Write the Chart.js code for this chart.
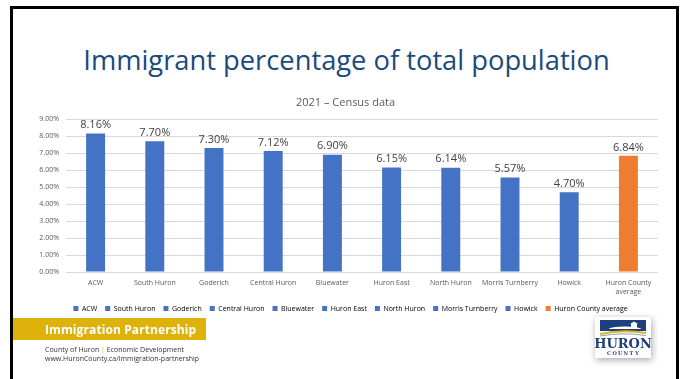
<!DOCTYPE html>
<html>
<head>
<meta charset="utf-8">
<script src="https://cdn.jsdelivr.net/npm/chart.js@4.4.1/dist/chart.umd.min.js"></script>
<style>
  html, body { margin: 0; padding: 0; background: #fff; }
  body { width: 685px; height: 379px; position: relative; overflow: hidden; font-family: "Open Sans", "Noto Sans", sans-serif; }
  .frame { position: absolute; left: 10px; top: 6px; width: 663px; height: 400px;
           border-left: 3px solid #000; border-top: 3px solid #000; border-right: 3px solid #000; }
  .headline { position: absolute; left: 4px; width: 685px; top: 41px; text-align: center;
              font-family: "Open Sans", sans-serif; font-weight: 400; font-size: 27.3px;
              color: #1b4a7d; letter-spacing: 0px; white-space: nowrap; }
  #chart { position: absolute; left: 0; top: 0; }
  .band { position: absolute; left: 13px; top: 318px; width: 193px; height: 22px; background: #ddb30b; }
  .band span { position: absolute; left: 32px; top: 3px; color: #fff; font-weight: 700; font-size: 12px;
               letter-spacing: 0.1px; font-family: "Open Sans", sans-serif; white-space: nowrap; }
  .contact { position: absolute; left: 45px; top: 345px; font-size: 7px; line-height: 9px; color: #333;
             font-family: "Open Sans", sans-serif; white-space: nowrap; }
  .contact .bar { color: #ddb30b; }
  #logo { position: absolute; left: 588px; top: 310px; }
</style>
</head>
<body>
<div class="frame"></div>
<div class="headline">Immigrant percentage of total population</div>
<canvas id="chart" width="685" height="379"></canvas>
<div class="band"><span>Immigration Partnership</span></div>
<div class="contact">County of Huron <span class="bar">|</span> Economic Development<br>www.HuronCounty.ca/immigration-partnership</div>
<canvas id="logo" width="70" height="56"></canvas>
<script>
// Municipalities and their immigrant share of population (%), 2021 Census
const categories = ["ACW", "South Huron", "Goderich", "Central Huron", "Bluewater",
                    "Huron East", "North Huron", "Morris Turnberry", "Howick", "Huron County average"];
const immigrantShare = [8.16, 7.70, 7.30, 7.12, 6.90, 6.15, 6.14, 5.57, 4.70, 6.84];
const yTicks = [0, 1, 2, 3, 4, 5, 6, 7, 8, 9];

const BLUE = "#4472c4";
const ORANGE = "#ed7d31";
const barColors = categories.map((c, i) => i === categories.length - 1 ? ORANGE : BLUE);

// Multi-line axis labels: the long average label wraps
const axisLabels = categories.map(c => c === "Huron County average" ? ["Huron County", "average"] : c);

const fmtPct = v => Number(v).toFixed(2) + "%";

// Draws the value above each bar
const valueLabels = {
  id: "valueLabels",
  afterDatasetsDraw(chart) {
    const ctx = chart.ctx;
    const meta = chart.getDatasetMeta(0);
    const data = chart.data.datasets[0].data;
    ctx.save();
    ctx.font = "11px 'Open Sans', sans-serif";
    ctx.fillStyle = "#404040";
    ctx.textAlign = "center";
    ctx.textBaseline = "bottom";
    meta.data.forEach((bar, i) => {
      ctx.fillText(fmtPct(data[i]), bar.x, bar.y - 3);
    });
    ctx.restore();
  }
};

// Nudges the legend row a little to the right of the centred position
const legendOffset = {
  id: "legendOffset",
  afterLayout(chart) {
    if (chart.legend) { chart.legend.left += 5; chart.legend.right += 5; }
  }
};

const FONT = "'Open Sans', sans-serif";

new Chart(document.getElementById("chart"), {
  type: "bar",
  data: {
    labels: axisLabels,
    datasets: [{
      label: "Immigrant percentage",
      data: immigrantShare,
      backgroundColor: barColors,
      borderWidth: 0,
      categoryPercentage: 1.0,
      barPercentage: 0.32
    }]
  },
  options: {
    responsive: false,
    animation: false,
    layout: { padding: { left: 33, right: 27, top: 96, bottom: 57 } },
    plugins: {
      title: {
        display: true,
        text: "2021 – Census data",
        color: "#595959",
        font: { family: FONT, size: 11, weight: "normal" },
        padding: { top: 0, bottom: 10 }
      },
      legend: {
        position: "bottom",
        onClick: null,
        labels: {
          color: "#595959",
          font: { family: FONT, size: 7 },
          boxWidth: 5,
          boxHeight: 5,
          padding: 8,
          generateLabels: (chart) => categories.map((c, i) => ({
            text: c,
            fillStyle: barColors[i],
            strokeStyle: barColors[i],
            lineWidth: 0,
            hidden: false,
            index: i,
            datasetIndex: 0
          }))
        }
      },
      tooltip: { enabled: false }
    },
    scales: {
      x: {
        grid: { display: false, drawTicks: false },
        border: { display: false },
        ticks: { color: "#595959", font: { family: FONT, size: 7 }, padding: 7, maxRotation: 0, autoSkip: false },
        afterFit: (s) => { s.height = 25; }
      },
      y: {
        min: 0,
        max: 9,
        afterBuildTicks: (s) => { s.ticks = yTicks.map(v => ({ value: v })); },
        grid: { color: "#d9d9d9", lineWidth: 1, drawTicks: false },
        border: { display: false },
        ticks: { color: "#595959", font: { family: FONT, size: 7 }, padding: 7, callback: v => fmtPct(v) },
        afterFit: (s) => { s.width = 33; }
      }
    }
  },
  plugins: [valueLabels, legendOffset]
});

// County logo badge
(function drawLogo() {
  const c = document.getElementById("logo");
  const g = c.getContext("2d");
  const x = 7, y = 7, w = 56, h = 41;
  g.save();
  g.shadowColor = "rgba(0,0,0,0.35)";
  g.shadowBlur = 7;
  g.shadowOffsetX = 1;
  g.shadowOffsetY = 2;
  g.fillStyle = "#fff";
  g.fillRect(x, y, w, h);
  g.restore();
  // sky band
  g.fillStyle = "#1f3f7c";
  g.fillRect(x + 5, y + 3, w - 10, 11);
  // farm silhouette
  g.fillStyle = "#ffffff";
  g.fillRect(x + 36, y + 7, 6, 4);
  g.beginPath(); g.moveTo(x + 35, y + 7); g.lineTo(x + 39, y + 4.5); g.lineTo(x + 43, y + 7); g.fill();
  g.beginPath(); g.ellipse(x + 30, y + 12, 16, 2.5, 0, Math.PI, 0); g.fill();
  // gold swoosh
  g.strokeStyle = "#e0b21a";
  g.lineWidth = 2;
  g.beginPath(); g.moveTo(x + 5, y + 17); g.quadraticCurveTo(x + 28, y + 12, x + 51, y + 16); g.stroke();
  g.strokeStyle = "#7fa3c9";
  g.lineWidth = 1;
  g.beginPath(); g.moveTo(x + 5, y + 19); g.quadraticCurveTo(x + 28, y + 15, x + 51, y + 18.5); g.stroke();
  // wordmark
  g.fillStyle = "#1f3f7c";
  g.textAlign = "center";
  g.textBaseline = "alphabetic";
  g.font = "bold 13px 'DejaVu Serif', 'Liberation Serif', serif";
  g.fillText("HURON", x + w / 2, y + 31);
  g.font = "bold 5px 'DejaVu Serif', serif";
  const letters = "COUNTY".split("");
  letters.forEach((ch, i) => g.fillText(ch, x + 14 + i * 5.6, y + 38));
})();
</script>
</body>
</html>
